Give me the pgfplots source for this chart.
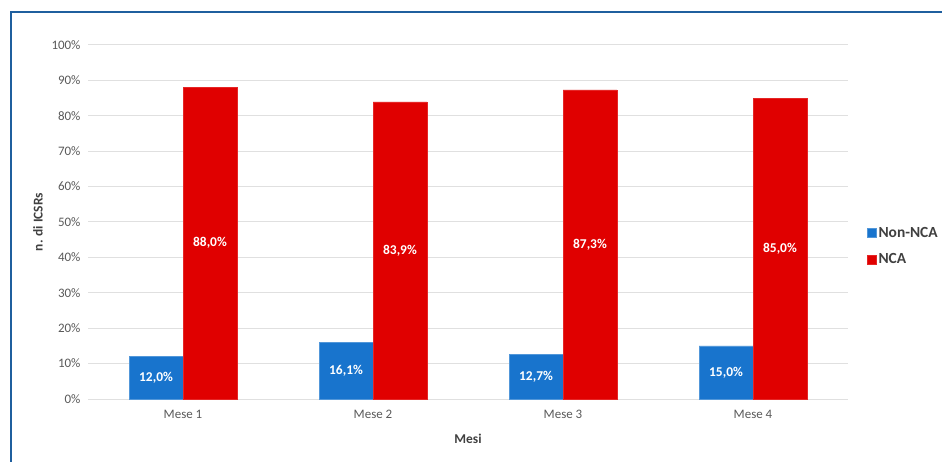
\documentclass[border=0pt]{standalone}
\usepackage{fontspec}
\setmainfont{Carlito}
\usepackage{pgfplots}
\usepackage{pgfplotstable}
\pgfplotsset{compat=1.18}
\definecolor{bblue}{HTML}{1874CD}
\definecolor{rred}{HTML}{E00000}
\definecolor{framec}{HTML}{1F5F9E}
\definecolor{gridc}{HTML}{E0E0E0}
\definecolor{tickc}{HTML}{595959}
\definecolor{labc}{HTML}{404040}
\pgfplotstableread{
x nonnca nca
0 12.0 88.0
1 16.1 83.9
2 12.7 87.3
3 15.0 85.0
}\data
\begin{document}
\begin{tikzpicture}
\path[use as bounding box] (0bp,0bp) rectangle (942bp,462bp);
\draw[framec, line width=2.4bp] (11bp,0bp) -- (11bp,450bp) -- (942bp,450bp);
\begin{axis}[
  at={(88bp,63bp)}, anchor=south west,
  scale only axis, width=760bp, height=354bp,
  xmin=-0.5, xmax=3.5, ymin=0, ymax=100,
  xtick={0,1,2,3}, xticklabels={Mese 1,Mese 2,Mese 3,Mese 4},
  ytick={0,10,...,100},
  yticklabel={\pgfmathprintnumber[assume math mode=true]{\tick}\%},
  ymajorgrids, grid style={gridc, line width=1bp},
  axis line style={draw=none},
  major tick length=0pt,
  tick label style={font=\fontsize{13}{15}\selectfont, text=tickc},
  yticklabel style={xshift=-4bp},
  xticklabel style={yshift=-8bp},
  ylabel={n. di ICSRs}, xlabel={Mesi},
  label style={font=\fontsize{13.5}{15}\selectfont\bfseries, text=labc},
  ylabel style={yshift=2bp},
  xlabel style={yshift=-8bp},
  clip=false,
  legend style={at={(1.021,0.432)}, anchor=west, draw=none, fill=none,
    font=\fontsize{15.5}{17}\selectfont\bfseries, text=labc,
    legend cell align=left, row sep=11bp},
  legend image code/.code={\fill[#1] (0bp,-4.5bp) rectangle (9bp,4.5bp);},
  lbl/.style={only marks, mark=none, forget plot, point meta=explicit,
    nodes near coords={\pgfmathprintnumber[fixed,fixed zerofill,precision=1,use comma,assume math mode=true]{\pgfplotspointmeta}\%},
    every node near coord/.append style={font=\fontsize{13.5}{15}\selectfont\bfseries, text=white, anchor=center}},
]
\addplot[ybar, bar width=0.284, bar shift=-0.142, fill=bblue, draw=bblue!75!white] table[x=x,y=nonnca]{\data};
\addlegendentry{Non-NCA}
\addplot[ybar, bar width=0.284, bar shift=0.142, fill=rred, draw=rred!85!white] table[x=x,y=nca]{\data};
\addlegendentry{NCA}
\addplot[lbl] table[x expr=\thisrow{x}-0.142, y expr=\thisrow{nonnca}/2, meta=nonnca]{\data};
\addplot[lbl] table[x expr=\thisrow{x}+0.142, y expr=\thisrow{nca}/2, meta=nca]{\data};
\end{axis}
\end{tikzpicture}
\end{document}
